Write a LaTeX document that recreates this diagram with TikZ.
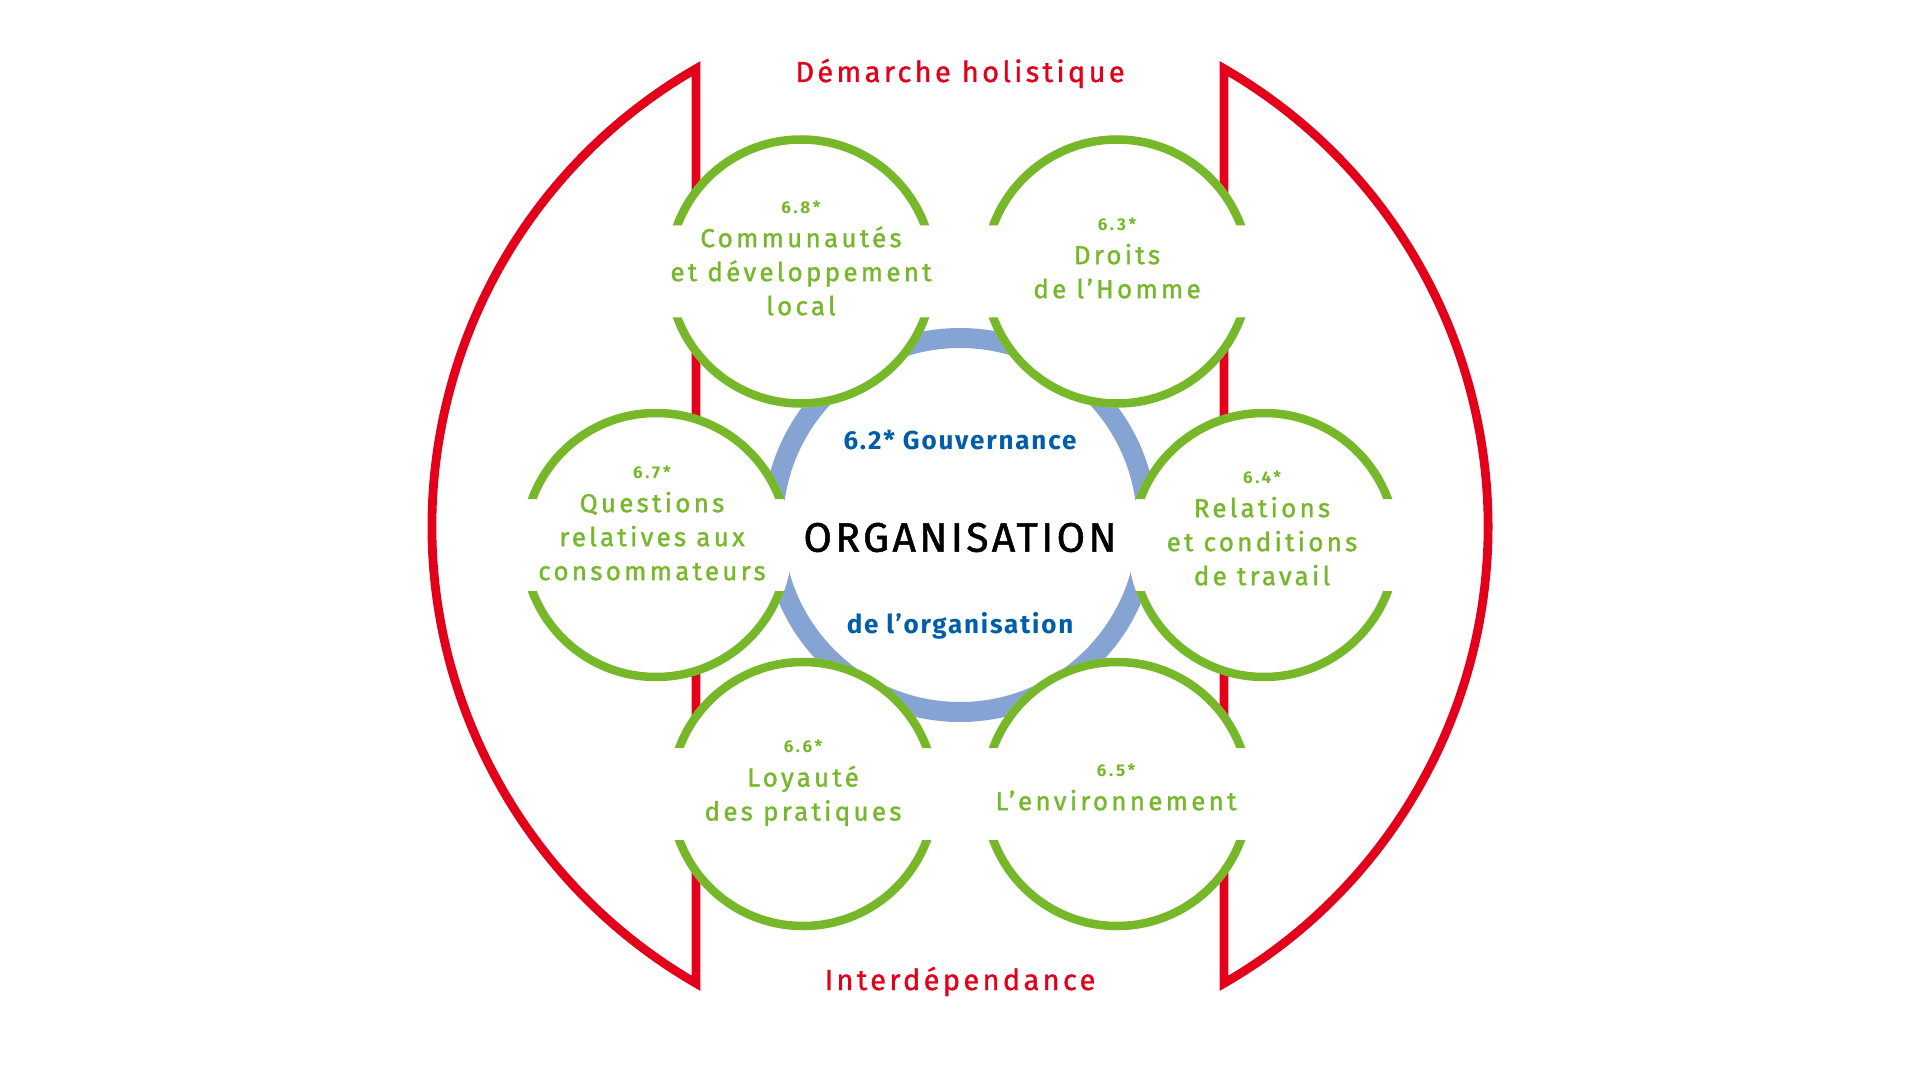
\documentclass[tikz,border=0pt]{standalone}
\usepackage{fontspec}
\setmainfont{Fira Sans}
\newfontfamily\themefont[LetterSpace=12.5,FakeBold=1.2]{Fira Sans}
\newfontfamily\numfont[LetterSpace=16]{Fira Sans}
\newfontfamily\titlefont[LetterSpace=11.5,FakeBold=1.2]{Fira Sans}
\newfontfamily\orgfont[LetterSpace=8,FakeBold=1.2]{Fira Sans}
\newfontfamily\govfont[LetterSpace=7]{Fira Sans}
\definecolor{isored}{RGB}{226,0,26}
\definecolor{isogreen}{RGB}{118,184,42}
\definecolor{ringblue}{RGB}{133,164,212}
\definecolor{textblue}{RGB}{0,94,168}
\newcommand{\num}[1]{{\numfont\bfseries\fontsize{8.5}{17}\selectfont #1}}

\begin{document}
\begin{tikzpicture}[x=0.5pt,y=-0.5pt,
  redline/.style={draw=isored,line width=4.4pt,line join=miter},
  ringline/.style={draw=ringblue,line width=10pt},
  greenline/.style={draw=isogreen,line width=4.25pt},
  themelabel/.style={text=isogreen,align=center,inner sep=0pt,font=\themefont\fontsize{13}{17}\selectfont},
  titlelabel/.style={text=isored,anchor=base,inner sep=0pt,font=\titlefont\fontsize{14.5}{17}\selectfont},
  govlabel/.style={text=textblue,anchor=base,inner sep=0pt,font=\govfont\bfseries\fontsize{13}{17}\selectfont}]
\useasboundingbox (0,0) rectangle (1920,1080);

% outer red frame
\coordinate (mid) at (960,526);
\draw[redline] (mid) ++(240:528) arc[start angle=240,end angle=120,radius=528] -- cycle;
\draw[redline] (mid) ++(-60:528) arc[start angle=-60,end angle=60,radius=528] -- cycle;

% ring
\draw[ringline] (960,525) circle[radius=187];

% green circles, open on both sides
\foreach \cx/\cy/\nm in {801/271.5/c68,1117/271.5/c63,656/545/c67,1264/545/c64,803/794/c66,1117/794/c65}{
  \fill[white] (\cx,\cy) circle[radius=136];
  \begin{scope}
    \clip (\cx-150,\cy-150) rectangle (\cx+150,\cy-46) (\cx-150,\cy+46) rectangle (\cx+150,\cy+150);
    \draw[greenline] (\cx,\cy) circle[radius=132];
  \end{scope}
  \coordinate (\nm) at (\cx,\cy);
}

\node[titlelabel] (holis) at (960,82) {Démarche holistique};
\node[titlelabel] (interd) at (960,990) {Interdépendance};

\node[themelabel] (comm) at (801,258) {\num{6.8*}\\Communautés\\et développement\\local};
\node[themelabel] (droits) at (1117,258) {\num{6.3*}\\Droits\\de l’Homme};
\node[themelabel] (conso) at (652,523) {\num{6.7*}\\Questions\\relatives aux\\consommateurs};
\node[themelabel] (travail) at (1262,528) {\num{6.4*}\\Relations\\et conditions\\de travail};
\node[themelabel] (loyal) at (803,783) {\num{6.6*}\\Loyauté\\des pratiques};
\node[themelabel] (envir) at (1116,787) {\num{6.5*}\\L’environnement};

\node[anchor=base,inner sep=0pt,font=\orgfont\fontsize{20.6}{24}\selectfont] (org) at (960,551.7) {ORGANISATION};
\node[govlabel] (gouv) at (960,449) {6.2* Gouvernance};
\node[govlabel] (deorg) at (960,633) {de l’organisation};
\end{tikzpicture}
\end{document}
